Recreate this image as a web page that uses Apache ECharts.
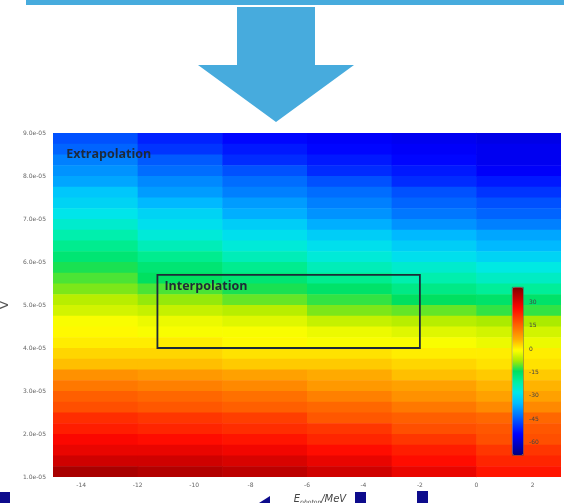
<!DOCTYPE html>
<html>
<head>
<meta charset="utf-8">
<script src="https://cdn.jsdelivr.net/npm/echarts@6/dist/echarts.min.js"></script>
<style>
  html, body { margin: 0; padding: 0; background: #fff; }
  #chart-container { width: 564px; height: 503px; }
</style>
</head>
<body>
<div id="chart-container"></div>
<script>
var dom = document.getElementById("chart-container");
var myChart = echarts.init(dom, null, { renderer: "canvas" });

// cell centres (x in MeV, y in units of 1e-05), rows listed top to bottom
const xCenters = [-13.5, -10.5, -7.5, -4.5, -1.5, 1.5];
const yCenters = [
  8.875, 8.625, 8.375, 8.125, 7.875, 7.625, 7.375, 7.125,
  6.875, 6.625, 6.375, 6.125, 5.875, 5.625, 5.375, 5.125,
  4.875, 4.625, 4.375, 4.125, 3.875, 3.625, 3.375, 3.125,
  2.875, 2.625, 2.375, 2.125, 1.875, 1.625, 1.375, 1.125
];
// one array per column
const col1 = [-46, -44, -41, -39, -37, -33, -31, -28, -25, -22, -19, -16, -13, -11, -9, -6, -4, -1, 0, 1, 3, 5, 10, 13, 16, 18, 22, 24, 27, 29, 32, 36];
const col2 = [-51, -49, -45, -43, -40, -38, -35, -31, -29, -26, -23, -19, -16, -14, -11, -8, -5, -2, -1, 1, 3, 5, 9, 12, 15, 17, 21, 23, 26, 29, 32, 35];
const col3 = [-54, -52, -50, -46, -43, -41, -38, -36, -32, -29, -26, -23, -19, -16, -13, -10, -6, -3, -1, 0, 2, 4, 8, 11, 14, 16, 20, 22, 25, 28, 31, 34];
const col4 = [-55, -54, -52, -50, -46, -43, -41, -39, -36, -32, -29, -26, -23, -19, -15, -12, -9, -5, -2, -1, 2, 4, 7, 9, 12, 15, 17, 21, 23, 26, 29, 32];
const col5 = [-56, -55, -54, -52, -50, -46, -44, -42, -39, -35, -32, -29, -25, -22, -18, -14, -10, -6, -3, -1, 1, 3, 5, 8, 10, 13, 16, 18, 21, 24, 26, 29];
const col6 = [-57, -56, -56, -55, -52, -49, -46, -44, -41, -37, -35, -31, -27, -24, -20, -15, -12, -7, -4, -2, 1, 2, 4, 6, 8, 11, 15, 17, 18, 21, 23, 25];
const columns = [col1, col2, col3, col4, col5, col6];

const xTicks = [-14, -12, -10, -8, -6, -4, -2, 0, 2];
const barTicks = [30, 15, 0, -15, -30, -45, -60];
const valueMin = -68;
const valueMax = 40;

// interpolation window [x0, yTop, x1, yBottom]
const interpBox = [-11.3, 5.7, -2, 4.0];
const extrapLabelAt = [-14.55, 8.5];

const cellW = 3;
const cellH = 0.25;

// rainbow map as seen in the colour bar, low to high
const rainbow = [
  "#00007f", "#0000bf", "#0000ff", "#0040ff", "#0080ff", "#00c0ff",
  "#00e8e8", "#00f0a0", "#00e060", "#a8ea00", "#ffff00", "#ffb000",
  "#ff7800", "#ff4000", "#ff0800", "#c40000", "#800000"
];
const arrowBlue = "#47abdd";
const navy = "#0d0b8c";
const boxInk = "#1d2a3a";

let cells = [];
for (let c = 0; c < xCenters.length; c++) {
  for (let r = 0; r < yCenters.length; r++) {
    cells.push([xCenters[c], yCenters[r], columns[c][r]]);
  }
}

const tickFont = { fontSize: 6, color: "#666", fontFamily: "DejaVu Sans" };

var option = {
  animation: false,
  backgroundColor: "#fff",
  grid: [
    { left: 53, right: 3, top: 133, bottom: 26, outerBoundsMode: "none" },
    { left: 512, top: 287, width: 11, height: 168, outerBoundsMode: "none" },
  ],
  xAxis: [
    {
      type: "value",
      gridIndex: 0,
      min: -15,
      max: 3,
      splitLine: { show: false },
      axisLine: { show: false },
      axisTick: { show: false },
      axisLabel: Object.assign({ customValues: xTicks, margin: 5 }, tickFont),
      name: "E{sub|photon}/MeV",
      nameLocation: "middle",
      nameGap: 16,
      nameTextStyle: {
        fontSize: 10,
        fontStyle: "italic",
        color: "#444",
        fontFamily: "DejaVu Sans",
        padding: [0, 0, 0, 26],
        rich: { sub: { fontSize: 6, fontStyle: "italic", color: "#444", verticalAlign: "bottom", padding: [6, 0, 0, 0] } },
      },
    },
    { type: "value", gridIndex: 1, show: false, min: 0, max: 1 },
  ],
  yAxis: [
    {
      type: "value",
      gridIndex: 0,
      min: 1,
      max: 9,
      interval: 1,
      splitLine: { show: false },
      axisLine: { show: true, lineStyle: { color: "#ddd" } },
      axisTick: { show: false },
      axisLabel: Object.assign({
        margin: 7,
        formatter: function (v) { return v.toFixed(1) + "e-05"; },
      }, tickFont),
      name: "V",
      nameLocation: "middle",
      nameRotate: 90,
      nameGap: 42,
      nameTextStyle: { fontSize: 13, color: "#555", fontFamily: "DejaVu Sans" },
    },
    {
      type: "value",
      gridIndex: 1,
      z: 20,
      min: valueMin,
      max: valueMax,
      position: "right",
      splitLine: { show: false },
      axisLine: { show: false },
      axisTick: { show: false },
      axisLabel: Object.assign({ show: true, customValues: barTicks, margin: 6 }, tickFont, { color: "#444" }),
    },
  ],
  visualMap: {
    type: "continuous",
    seriesIndex: 0,
    dimension: 2,
    min: valueMin,
    max: valueMax,
    calculable: false,
    left: 512,
    top: 287,
    padding: 0,
    itemWidth: 11,
    itemHeight: 168,
    text: ["", ""],
    showLabel: false,
    borderColor: "#444",
    borderWidth: 0.6,
    inRange: { color: rainbow },
  },
  graphic: [
    { type: "rect", shape: { x: 26, y: 0, width: 538, height: 5 }, style: { fill: arrowBlue } },
    {
      type: "polygon",
      shape: { points: [[237, 7], [315, 7], [315, 65], [354, 65], [276, 122], [198, 65], [237, 65]] },
      style: { fill: arrowBlue },
    },
    { type: "rect", shape: { x: 0, y: 492, width: 10, height: 11 }, style: { fill: navy } },
    { type: "polygon", shape: { points: [[259, 503], [270, 496], [270, 503]] }, style: { fill: navy } },
    { type: "rect", shape: { x: 355, y: 492, width: 11, height: 11 }, style: { fill: navy } },
    { type: "rect", shape: { x: 417, y: 491, width: 11, height: 12 }, style: { fill: navy } },
  ],
  series: [
    {
      type: "custom",
      xAxisIndex: 0,
      yAxisIndex: 0,
      silent: true,
      clip: true,
      encode: { x: 0, y: 1 },
      data: cells,
      renderItem: function (params, api) {
        const x = api.value(0);
        const y = api.value(1);
        const p = api.coord([x - cellW / 2, y + cellH / 2]);
        const s = api.size([cellW, cellH]);
        return {
          type: "rect",
          shape: { x: p[0], y: p[1], width: s[0] + 0.6, height: s[1] + 0.6 },
          style: { fill: api.visual("color") },
        };
      },
      markPoint: {
        silent: true,
        symbol: "rect",
        symbolSize: 1,
        itemStyle: { color: "rgba(0,0,0,0)" },
        label: {
          show: true,
          position: "right",
          distance: 0,
          formatter: "Extrapolation",
          fontSize: 12.5,
          fontWeight: "bold",
          color: boxInk,
          fontFamily: "Open Sans",
        },
        data: [{ coord: extrapLabelAt }],
      },
    },
    {
      type: "custom",
      name: "Interpolation",
      xAxisIndex: 0,
      yAxisIndex: 0,
      silent: true,
      z: 5,
      encode: { x: [0, 2], y: [1, 3] },
      data: [interpBox],
      renderItem: function (params, api) {
        const p0 = api.coord([api.value(0), api.value(1)]);
        const p1 = api.coord([api.value(2), api.value(3)]);
        return {
          type: "group",
          children: [
            {
              type: "rect",
              shape: { x: p0[0], y: p0[1], width: p1[0] - p0[0], height: p1[1] - p0[1] },
              style: { fill: "none", stroke: boxInk, lineWidth: 1.8 },
            },
            {
              type: "text",
              x: p0[0] + 7,
              y: p0[1] + 5,
              style: {
                text: "Interpolation",
                fontSize: 12.5,
                fontWeight: "bold",
                fill: boxInk,
                fontFamily: "Open Sans",
              },
            },
          ],
        };
      },
    },
  ],
};

if (option && typeof option === "object") {
  myChart.setOption(option);
}
window.addEventListener("resize", myChart.resize);
</script>
</body>
</html>
